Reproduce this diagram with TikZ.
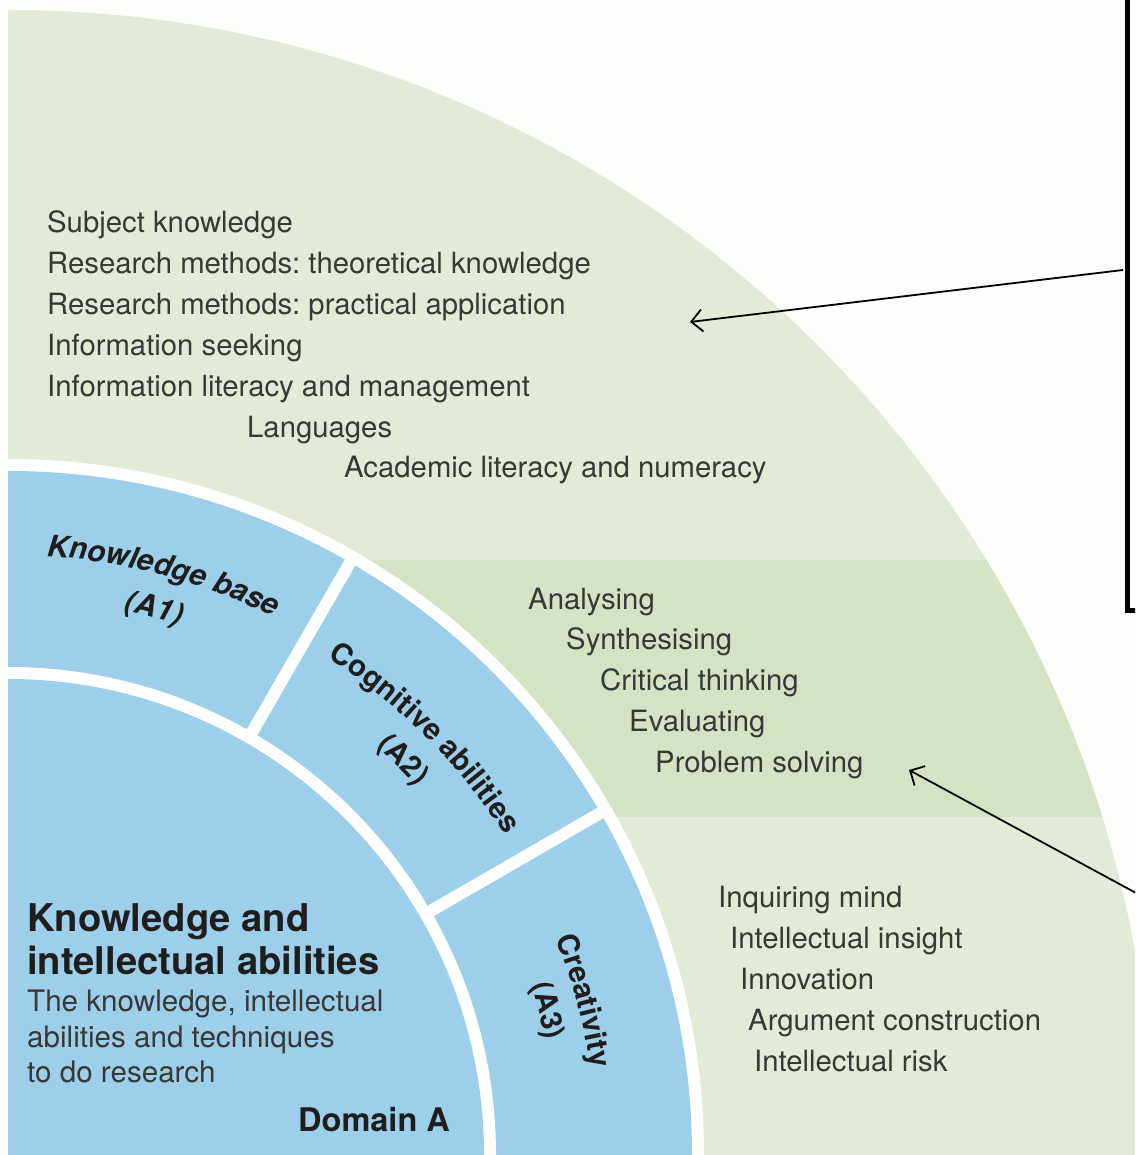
\documentclass[tikz,border=0pt]{standalone}
\usepackage{fontspec}
\setmainfont{TeX Gyre Heros}
\usetikzlibrary{arrows.meta,decorations.text}
\frenchspacing

\definecolor{paper}{HTML}{FDFDFB}
\definecolor{sage}{HTML}{E2EBD7}
\definecolor{sagedark}{HTML}{D5E3C4}
\definecolor{sky}{HTML}{9DCFEA}
\definecolor{ink}{HTML}{383838}
\definecolor{inkdark}{HTML}{1E1E1E}

\begin{document}
\begin{tikzpicture}[x=1pt,y=1pt,
  item/.style={anchor=west, inner sep=0pt, text=ink,
    font=\fontsize{29.3}{29.3}\selectfont, text height=21pt, text depth=6pt},
  title/.style={anchor=west, inner sep=0pt, text=inkdark,
    font=\bfseries\fontsize{38.2}{38.2}\selectfont, text height=28pt, text depth=8pt},
  blurb/.style={anchor=west, inner sep=0pt, text=ink,
    font=\fontsize{29.6}{29.6}\selectfont, text height=21pt, text depth=6pt},
  divider/.style={white, line width=12pt},
  pointer/.style={black, line width=1.8pt,
    -{Straight Barb[length=11pt, width=22pt, line width=1.8pt]}},
  arclabel/.style={decorate, decoration={text along path, text align=center,
    text={|\bfseries\fontsize{29.5}{29.5}\selectfont\color{inkdark}|#1}}},
  slantlabel/.style={decorate, decoration={text along path, text align=center,
    text={|\bfseries\itshape\fontsize{30}{30}\selectfont\color{inkdark}|#1}}}
]
\useasboundingbox (0,0) rectangle (1135,1155);
\fill[paper] (0,0) rectangle (1135,1155);

\coordinate (O) at (8,0);

% ---- concentric rings of domain A ----
\begin{scope}
  \clip (8,0) rectangle (1135,1155);
  \fill[sage] (O) circle[radius=1145pt];
  \begin{scope}
    \clip (O) circle[radius=1145pt];
    \fill[sagedark] (8,338) rectangle (1135,595);
  \end{scope}
  \fill[white] (O) circle[radius=696pt];
  \fill[sky]   (O) circle[radius=684pt];
  \fill[white] (O) circle[radius=488pt];
  \fill[sky]   (O) circle[radius=476pt];
  % sector dividers of the middle ring
  \draw[divider] (O) ++(30:480pt) -- ++(30:210pt);
  \draw[divider] (O) ++(60:480pt) -- ++(60:210pt);
\end{scope}

% ---- curved sector labels ----
\path[slantlabel={Knowledge base}] (O) ++(90:600pt) arc[start angle=90, end angle=60, radius=600pt];
\path[slantlabel={(A1)}] (O) ++(90:557pt) arc[start angle=90, end angle=60, radius=557pt];
\path[arclabel={Cognitive abilities}] (O) ++(60:591pt) arc[start angle=60, end angle=30, radius=591pt];
\path[arclabel={(A2)}] (O) ++(60:550pt) arc[start angle=60, end angle=30, radius=550pt];
\path[arclabel={Creativity}] (O) ++(30:589pt) arc[start angle=30, end angle=0, radius=589pt];
\path[arclabel={(A3)}] (O) ++(30:550pt) arc[start angle=30, end angle=0, radius=550pt];

% ---- domain title ----
\node[title] (t1) at (27,233) {Knowledge and};
\node[title] (t2) at (27,190) {intellectual abilities};
\node[blurb] (b1) at (27,151) {The knowledge, intellectual};
\node[blurb] (b2) at (27,115) {abilities and techniques};
\node[blurb] (b3) at (27,80)  {to do research};
\node[anchor=west, inner sep=0pt, text=inkdark,
      font=\bfseries\fontsize{32.5}{32.5}\selectfont] (dom) at (298,35) {Domain A};

% ---- knowledge base descriptors ----
\node[item] (k1) at (47,930) {Subject knowledge};
\node[item] (k2) at (47,889) {Research methods: theoretical knowledge};
\node[item] (k3) at (47,848) {Research methods: practical application};
\node[item] (k4) at (47,807) {Information seeking};
\node[item] (k5) at (47,766) {Information literacy and management};
\node[item] (k6) at (247,725) {Languages};
\node[item] (k7) at (344,685) {Academic literacy and numeracy};

% ---- cognitive abilities descriptors ----
\node[item] (c1) at (528,553) {Analysing};
\node[item] (c2) at (566,513) {Synthesising};
\node[item] (c3) at (600,472) {Critical thinking};
\node[item] (c4) at (629,431) {Evaluating};
\node[item] (c5) at (655,390) {Problem solving};

% ---- creativity descriptors ----
\node[item] (r1) at (718,255) {Inquiring mind};
\node[item] (r2) at (730,214) {Intellectual insight};
\node[item] (r3) at (740,173) {Innovation};
\node[item] (r4) at (748,132) {Argument construction};
\node[item] (r5) at (754,91)  {Intellectual risk};

% ---- callout frame and pointers ----
\begin{scope}
  \clip (0,0) rectangle (1135,1155);
  \node[draw=black, line width=5pt, anchor=south west, inner sep=0pt,
        minimum width=200pt, minimum height=700pt] (box) at (1125,542) {};
  \coordinate (tailA) at (1123,885);
  \coordinate (headA) at (690,833);
  \coordinate (tailB) at (1160,249);
  \coordinate (headB) at (909,385);
  \draw[pointer] (tailA) -- (headA);
  \draw[pointer] (tailB) -- (headB);
\end{scope}
\end{tikzpicture}
\end{document}
